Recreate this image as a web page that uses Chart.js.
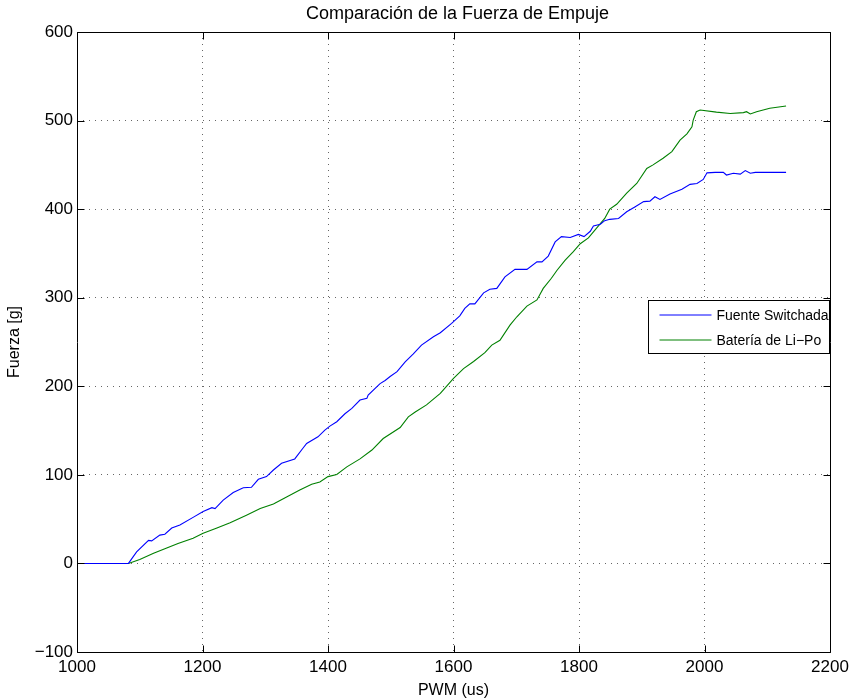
<!DOCTYPE html>
<html>
<head>
<meta charset="utf-8">
<script src="https://cdn.jsdelivr.net/npm/chart.js@4.4.1/dist/chart.umd.min.js"></script>
<style>
  html, body { margin: 0; padding: 0; background: #fff; }
  #wrap { width: 862px; height: 700px; }
</style>
</head>
<body>
<div id="wrap"><canvas id="c" width="862" height="700"></canvas></div>
<script>
// Labels
const titleText = 'Comparación de la Fuerza de Empuje';
const xTitle = 'PWM (us)';
const yTitle = 'Fuerza [g]';
const seriesNames = ['Fuente Switchada', 'Batería de Li\u2212Po'];

// Axis ticks
const xTicks = [1000, 1200, 1400, 1600, 1800, 2000, 2200];
const yTicks = [-100, 0, 100, 200, 300, 400, 500, 600];

// Thrust with the switching power supply
const fuentePwm = [1000, 1040, 1082, 1095, 1114, 1119, 1132, 1140, 1151, 1164, 1185, 1201, 1215, 1220,
  1233, 1249, 1265, 1278, 1289, 1302, 1313, 1326, 1347, 1360, 1366, 1384, 1395, 1403, 1414, 1427,
  1438, 1451, 1462, 1464, 1483, 1491, 1499, 1510, 1523, 1536, 1549, 1568, 1579, 1597, 1610, 1618,
  1626, 1634, 1648, 1658, 1669, 1682, 1698, 1717, 1733, 1741, 1751, 1762, 1772, 1786, 1799, 1808,
  1818, 1823, 1834, 1841, 1849, 1863, 1876, 1889, 1903, 1913, 1921, 1929, 1945, 1964, 1977, 1988,
  1998, 2004, 2017, 2030, 2035, 2046, 2057, 2065, 2073, 2081, 2130];
const fuenteFuerza = [0, 0, 0, 13, 26, 25.5, 32, 33, 40, 43.5, 52, 58.5, 63, 62,
  71.5, 80, 85.5, 86, 95, 98, 105.5, 113, 118, 130, 135.5, 143, 150.5, 155, 160, 169,
  175, 184.5, 186.5, 190, 203, 206.5, 211, 216.5, 227.5, 236.5, 246.5, 256, 260.5, 271, 279.5, 288,
  293, 293, 305.5, 309.5, 310.5, 323.5, 332, 332, 340.5, 340.5, 347, 363, 369, 368, 371.5, 369,
  375, 381, 383, 387, 388.5, 389.5, 397, 402.5, 408.5, 409, 414, 411, 417, 422.5, 428, 429,
  433.5, 441, 441.5, 441.5, 438.5, 440.5, 439.5, 443.5, 440.5, 441.5, 441.5];

// Thrust with the Li-Po battery
const bateriaPwm = [1000, 1040, 1082, 1100, 1122, 1143, 1161, 1185, 1201, 1223, 1244, 1270, 1292, 1313,
  1334, 1355, 1374, 1387, 1400, 1414, 1430, 1451, 1470, 1488, 1515, 1528, 1539, 1557, 1579, 1600,
  1616, 1632, 1650, 1661, 1674, 1690, 1701, 1717, 1733, 1743, 1756, 1765, 1778, 1791, 1802, 1815,
  1828, 1841, 1849, 1860, 1876, 1892, 1908, 1918, 1934, 1948, 1961, 1972, 1980, 1982, 1987, 1993,
  2019, 2041, 2062, 2067, 2073, 2083, 2104, 2130];
const bateriaFuerza = [0, 0, 0, 4.5, 11.5, 17.5, 22.5, 28.5, 34, 40, 46, 54.5, 62, 67,
  75, 83, 89.5, 92, 98, 100.5, 109, 118, 128, 141, 153.5, 165.5, 171, 179, 192, 209,
  220, 228, 238, 246.5, 252, 269, 278.5, 290.5, 297.5, 310.5, 322, 331, 342.5, 352, 361, 367.5,
  378.5, 389.5, 400, 405.5, 418, 429, 446, 450, 457.5, 465, 478, 485, 493, 500.5, 510, 512,
  509.5, 508, 509, 510, 507.5, 510, 514, 516.5];

const seriesColors = ['#0000ff', '#008000'];
const FONT = "'Liberation Sans', Arial, Helvetica, sans-serif";

const toPoints = (xs, ys) => xs.map((x, i) => ({ x: x, y: ys[i] }));
const plainNumber = v => (v < 0 ? '\u2212' + Math.abs(v) : String(v));

// Title centred over the plotting area
const titlePlugin = {
  id: 'axesTitle',
  afterDraw(chart) {
    const { ctx, chartArea } = chart;
    ctx.save();
    ctx.fillStyle = '#000';
    ctx.font = '18px ' + FONT;
    ctx.textAlign = 'center';
    ctx.textBaseline = 'middle';
    ctx.fillText(titleText, (chartArea.left + chartArea.right) / 2 + 4, 14);
    ctx.restore();
  }
};

// Box around the axes with inward tick marks on all four sides
const boxPlugin = {
  id: 'axesBox',
  afterDatasetsDraw(chart) {
    const { ctx, chartArea, scales } = chart;
    const L = Math.round(chartArea.left) + 0.5, R = Math.round(chartArea.right) + 0.5;
    const T = Math.round(chartArea.top) + 0.5, B = Math.round(chartArea.bottom) + 0.5;
    const len = 7;
    ctx.save();
    ctx.strokeStyle = '#000';
    ctx.lineWidth = 1;
    ctx.beginPath();
    ctx.rect(L, T, R - L, B - T);
    xTicks.forEach(v => {
      const px = Math.round(scales.x.getPixelForValue(v)) + 0.5;
      ctx.moveTo(px, B); ctx.lineTo(px, B - len);
      ctx.moveTo(px, T); ctx.lineTo(px, T + len);
    });
    yTicks.forEach(v => {
      const py = Math.round(scales.y.getPixelForValue(v)) + 0.5;
      ctx.moveTo(L, py); ctx.lineTo(L + len, py);
      ctx.moveTo(R, py); ctx.lineTo(R - len, py);
    });
    ctx.stroke();
    ctx.restore();
  }
};

// Legend box inside the axes, at the right edge
const legendPlugin = {
  id: 'insideLegend',
  afterDraw(chart) {
    const { ctx, chartArea } = chart;
    const w = 181, h = 53;
    const x0 = Math.round(chartArea.right) - w - 0.5;
    const y0 = 300.5;
    ctx.save();
    ctx.fillStyle = '#fff';
    ctx.fillRect(x0, y0, w, h);
    ctx.strokeStyle = '#000';
    ctx.lineWidth = 1;
    ctx.strokeRect(x0, y0, w, h);
    ctx.font = '14px ' + FONT;
    ctx.textBaseline = 'middle';
    ctx.textAlign = 'left';
    seriesNames.forEach((name, i) => {
      const yy = y0 + 14.5 + i * 25;
      ctx.strokeStyle = seriesColors[i];
      ctx.beginPath();
      ctx.moveTo(x0 + 11, yy);
      ctx.lineTo(x0 + 63, yy);
      ctx.stroke();
      ctx.fillStyle = '#000';
      ctx.fillText(name, x0 + 68, yy + 1);
    });
    ctx.restore();
  }
};

new Chart(document.getElementById('c'), {
  type: 'line',
  data: {
    datasets: [
      {
        label: seriesNames[0],
        data: toPoints(fuentePwm, fuenteFuerza),
        borderColor: seriesColors[0],
        borderWidth: 1.1,
        pointRadius: 0,
        tension: 0,
        fill: false
      },
      {
        label: seriesNames[1],
        data: toPoints(bateriaPwm, bateriaFuerza),
        borderColor: seriesColors[1],
        borderWidth: 1.1,
        pointRadius: 0,
        tension: 0,
        fill: false
      }
    ]
  },
  options: {
    responsive: false,
    animation: false,
    devicePixelRatio: 1,
    layout: { padding: { top: 32, right: 32, left: 0, bottom: 0 } },
    plugins: {
      legend: { display: false },
      title: { display: false },
      tooltip: { enabled: false }
    },
    scales: {
      x: {
        type: 'linear',
        min: 1000,
        max: 2200,
        afterBuildTicks: s => { s.ticks = xTicks.map(v => ({ value: v })); },
        afterFit: s => { s.height = 48; },
        grid: { color: 'rgba(0,0,0,0.6)', lineWidth: 1, drawTicks: false },
        border: { display: false, dash: [1, 5] },
        ticks: {
          color: '#000',
          font: { family: FONT, size: 17 },
          padding: 5,
          maxRotation: 0,
          autoSkip: false,
          callback: plainNumber
        },
        title: {
          display: true,
          text: xTitle,
          color: '#000',
          font: { family: FONT, size: 16 },
          padding: { top: 2, bottom: 0 }
        }
      },
      y: {
        type: 'linear',
        min: -100,
        max: 600,
        afterBuildTicks: s => { s.ticks = yTicks.map(v => ({ value: v })); },
        afterFit: s => { s.width = 77; },
        grid: { color: 'rgba(0,0,0,0.6)', lineWidth: 1, drawTicks: false },
        border: { display: false, dash: [1, 5] },
        ticks: {
          color: '#000',
          font: { family: FONT, size: 17 },
          padding: 4,
          autoSkip: false,
          callback: plainNumber
        },
        title: {
          display: true,
          text: yTitle,
          color: '#000',
          font: { family: FONT, size: 16 },
          padding: { top: 5, bottom: 0 }
        }
      }
    }
  },
  plugins: [titlePlugin, boxPlugin, legendPlugin]
});
</script>
</body>
</html>
